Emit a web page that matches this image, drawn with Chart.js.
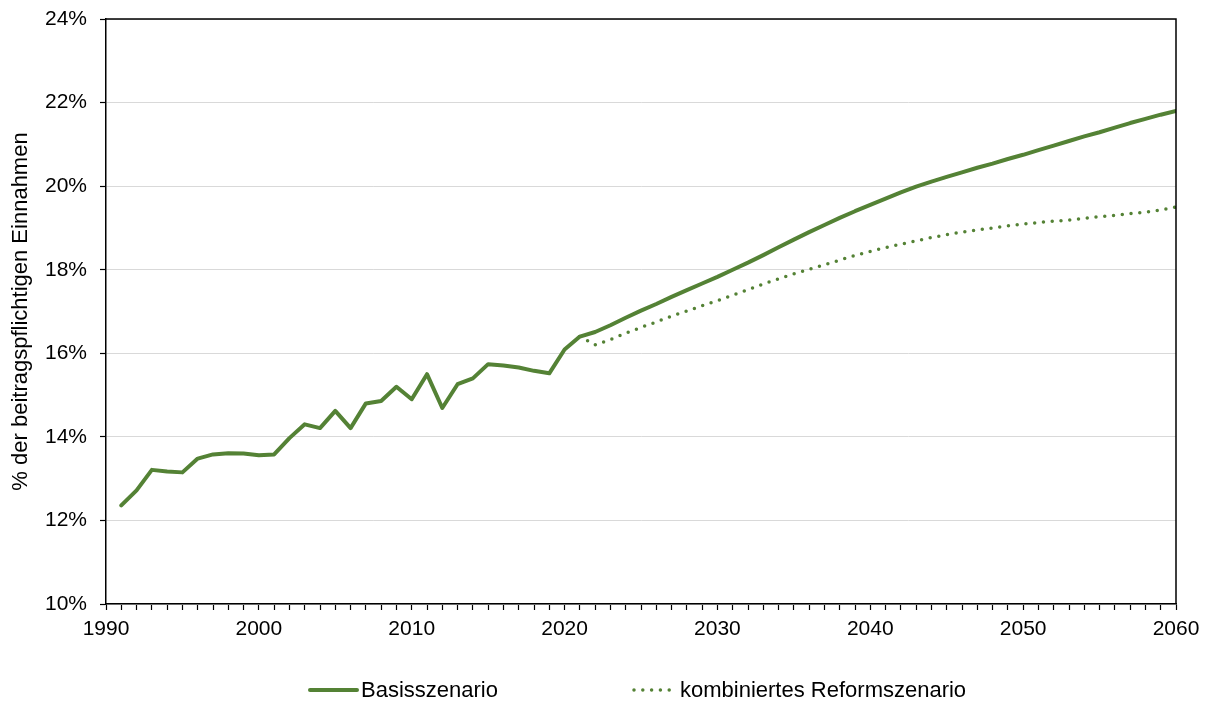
<!DOCTYPE html>
<html lang="de">
<head>
<meta charset="UTF-8">
<title>Beitragssatz</title>
<style>
    html, body { margin: 0; padding: 0; background: #fff; }
    #wrap { width: 1208px; height: 702px; position: relative; }
</style>
</head>
<body>
<div id="wrap"><canvas id="chart"></canvas></div>

<script src="https://cdn.jsdelivr.net/npm/chart.js@4.4.9/dist/chart.umd.min.js"></script>
<script>
    // Jahre und Werte (in % der beitragspflichtigen Einnahmen)
    const years = [1991, 1992, 1993, 1994, 1995, 1996, 1997, 1998, 1999, 2000,
        2001, 2002, 2003, 2004, 2005, 2006, 2007, 2008, 2009, 2010,
        2011, 2012, 2013, 2014, 2015, 2016, 2017, 2018, 2019, 2020,
        2021, 2022, 2023, 2024, 2025, 2026, 2027, 2028, 2029, 2030,
        2031, 2032, 2033, 2034, 2035, 2036, 2037, 2038, 2039, 2040,
        2041, 2042, 2043, 2044, 2045, 2046, 2047, 2048, 2049, 2050,
        2051, 2052, 2053, 2054, 2055, 2056, 2057, 2058, 2059, 2060];

    const basis = [12.36, 12.72, 13.21, 13.17, 13.15, 13.48, 13.58, 13.61, 13.60, 13.56,
        13.58, 13.97, 14.30, 14.21, 14.62, 14.21, 14.80, 14.86, 15.20, 14.90,
        15.50, 14.69, 15.26, 15.40, 15.74, 15.71, 15.66, 15.58, 15.52, 16.09,
        16.40, 16.51, 16.67, 16.85, 17.02, 17.18, 17.35, 17.51, 17.67, 17.83,
        18.00, 18.17, 18.35, 18.54, 18.72, 18.90, 19.07, 19.24, 19.40, 19.55,
        19.70, 19.85, 19.99, 20.11, 20.22, 20.33, 20.44, 20.54, 20.65, 20.75,
        20.86, 20.97, 21.08, 21.19, 21.29, 21.40, 21.51, 21.61, 21.71, 21.80];

    const reformYears = [2021, 2022, 2023, 2024, 2025, 2026, 2027, 2028, 2029, 2030,
        2031, 2032, 2033, 2034, 2035, 2036, 2037, 2038, 2039, 2040,
        2041, 2042, 2043, 2044, 2045, 2046, 2047, 2048, 2049, 2050,
        2051, 2052, 2053, 2054, 2055, 2056, 2057, 2058, 2059, 2060];

    const reform = [16.40, 16.20, 16.33, 16.48, 16.62, 16.75, 16.89, 17.01, 17.14, 17.26,
        17.39, 17.52, 17.66, 17.78, 17.90, 18.01, 18.12, 18.23, 18.34, 18.44,
        18.53, 18.61, 18.69, 18.77, 18.84, 18.90, 18.95, 19.00, 19.05, 19.09,
        19.13, 19.16, 19.19, 19.23, 19.27, 19.30, 19.34, 19.38, 19.43, 19.50];

    const yTicks = [10, 12, 14, 16, 18, 20, 22, 24];

    const gruen = '#548235';
    const schrift = "'Liberation Sans', Arial, sans-serif";

    // Rahmen oben/rechts um die Zeichenfläche
    const rahmen = {
        id: 'rahmen',
        afterDatasetsDraw(chart) {
            const { ctx, chartArea: a } = chart;
            ctx.save();
            ctx.strokeStyle = '#000';
            ctx.lineWidth = 1.5;
            ctx.beginPath();
            ctx.moveTo(a.left, a.top);
            ctx.lineTo(a.right, a.top);
            ctx.lineTo(a.right, a.bottom);
            ctx.stroke();
            ctx.restore();
        }
    };

    // Legende unten, wie im Original
    const legende = {
        id: 'legende',
        afterDraw(chart) {
            const { ctx } = chart;
            const pos = [
                { x1: 310, x2: 357, tx: 361 },
                { x1: 634, x2: 676, tx: 680 }
            ];
            const y = 690;
            ctx.save();
            ctx.font = '22px ' + schrift;
            ctx.textBaseline = 'middle';
            ctx.fillStyle = '#000';
            chart.data.datasets.forEach((ds, i) => {
                const p = pos[i];
                ctx.strokeStyle = ds.borderColor;
                ctx.lineWidth = ds.borderWidth;
                ctx.lineCap = ds.borderCapStyle || 'butt';
                ctx.setLineDash(ds.borderDash || []);
                ctx.beginPath();
                ctx.moveTo(p.x1, y);
                ctx.lineTo(p.x2, y);
                ctx.stroke();
                ctx.setLineDash([]);
                ctx.fillText(ds.label, p.tx, y + 1);
            });
            ctx.restore();
        }
    };

    const ctx = document.getElementById('chart').getContext('2d');

    new Chart(ctx, {
        type: 'line',
        data: {
            datasets: [{
                label: 'Basisszenario',
                data: years.map((j, i) => ({ x: j, y: basis[i] })),
                borderColor: gruen,
                borderWidth: 4,
                borderCapStyle: 'round',
                borderJoinStyle: 'round',
                pointRadius: 0,
                tension: 0
            }, {
                label: 'kombiniertes Reformszenario',
                data: reformYears.map((j, i) => ({ x: j, y: reform[i] })),
                borderColor: gruen,
                borderWidth: 3.5,
                borderDash: [0, 8.8],
                borderCapStyle: 'round',
                pointRadius: 0,
                tension: 0
            }]
        },
        options: {
            responsive: true,
            maintainAspectRatio: false,
            animation: false,
            layout: { padding: { left: 0, right: 32, top: 19, bottom: 58 } },
            plugins: {
                legend: { display: false },
                tooltip: { enabled: false }
            },
            scales: {
                x: {
                    type: 'linear',
                    min: 1990,
                    max: 2060,
                    afterFit: s => { s.height = 40; s.paddingLeft = 0; s.paddingRight = 0; },
                    border: { color: '#000', width: 1.5 },
                    grid: {
                        drawOnChartArea: false,
                        drawTicks: true,
                        tickLength: 6,
                        tickColor: '#000',
                        tickWidth: 1.2
                    },
                    ticks: {
                        stepSize: 1,
                        maxTicksLimit: 100,
                        autoSkip: false,
                        maxRotation: 0,
                        padding: 7,
                        color: '#000',
                        font: { family: schrift, size: 21 },
                        callback: v => (v % 10 === 0 ? String(v) : '')
                    }
                },
                y: {
                    min: 10,
                    max: 24,
                    afterFit: s => { s.width = 106; s.paddingTop = 0; s.paddingBottom = 0; },
                    afterBuildTicks: s => { s.ticks = yTicks.map(v => ({ value: v })); },
                    border: { color: '#000', width: 1.5 },
                    grid: {
                        color: '#d9d9d9',
                        lineWidth: 1,
                        drawTicks: true,
                        tickLength: 6,
                        tickColor: '#000',
                        tickWidth: 1.2
                    },
                    ticks: {
                        padding: 13,
                        color: '#000',
                        font: { family: schrift, size: 21 },
                        callback: v => v + '%'
                    },
                    title: {
                        display: true,
                        text: '% der beitragspflichtigen Einnahmen',
                        color: '#000',
                        font: { family: schrift, size: 22 },
                        padding: { top: 8, bottom: 0 }
                    }
                }
            }
        },
        plugins: [rahmen, legende]
    });
</script>
</body>
</html>
